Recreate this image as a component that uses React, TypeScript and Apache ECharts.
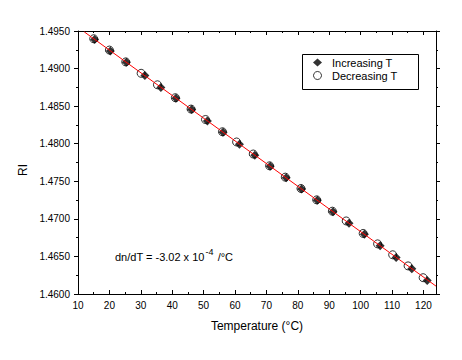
import React, { useEffect, useRef } from "react";
import * as echarts from "echarts";

const FONT = "'Liberation Sans', Arial, sans-serif";

const incT = [15.3, 20.3, 25.4, 31.3, 36.4, 41.2, 46.2, 51.2, 56.2, 61.4, 66.3, 71.2, 76.3, 81.2, 86.2, 91.2, 96.3, 101.2, 106.2, 111.3, 116.3, 121.2];
const incRI = [1.49388, 1.49235, 1.49085, 1.48908, 1.48749, 1.48606, 1.48455, 1.48302, 1.48153, 1.47994, 1.47848, 1.47700, 1.47546, 1.47398, 1.47247, 1.47096, 1.46941, 1.46794, 1.46641, 1.46487, 1.46336, 1.46178];
const decT = [15.0, 20.0, 25.2, 30.1, 35.3, 41.0, 46.0, 50.6, 56.0, 60.5, 65.8, 71.0, 76.0, 81.0, 86.0, 91.0, 95.4, 100.8, 105.4, 110.2, 115.1, 119.9];
const decRI = [1.49397, 1.49246, 1.49089, 1.48937, 1.48784, 1.48612, 1.48461, 1.48322, 1.48159, 1.48023, 1.47863, 1.47706, 1.47555, 1.47404, 1.47253, 1.47102, 1.46972, 1.46806, 1.46667, 1.46522, 1.46374, 1.46217];
const fitLine = [[12.0, 1.49488], [124.0, 1.46105]];

const xMin = 10, xMax = 124, xInterval = 10;
const yMin = 1.46, yMax = 1.495, yInterval = 0.005;

export default function App() {
  const ref = useRef<HTMLDivElement>(null);
  useEffect(() => {
    if (!ref.current) return;
    const chart = echarts.init(ref.current, null, { renderer: "svg" });
    const axisLine = { show: true, onZero: false, lineStyle: { color: "#000", width: 1 } };
    const baseX = {
      type: "value", min: xMin, max: xMax, interval: xInterval,
      axisLine, splitLine: { show: false },
      minorTick: { show: true, splitNumber: 2, length: 2, lineStyle: { color: "#000" } },
    };
    const baseY = {
      type: "value", min: yMin, max: yMax, interval: yInterval,
      axisLine, splitLine: { show: false },
      minorTick: { show: true, splitNumber: 2, length: 2, lineStyle: { color: "#000" } },
    };
    chart.setOption({
      animation: false,
      backgroundColor: "#fff",
      textStyle: { fontFamily: FONT },
      grid: { left: 78, right: 26, top: 31, bottom: 66 },
      xAxis: [
        {
          ...baseX, position: "bottom",
          name: "Temperature (°C)", nameLocation: "middle", nameGap: 26,
          nameTextStyle: { color: "#000", fontSize: 12, fontFamily: FONT },
          axisTick: { show: true, inside: true, length: 4, lineStyle: { color: "#000" } },
          axisLabel: { color: "#000", fontSize: 10, margin: 6, fontFamily: FONT, showMaxLabel: false,
            formatter: (v: number) => (v % 10 === 0 ? String(v) : "") },
        },
        {
          ...baseX, position: "top",
          axisTick: { show: true, inside: true, length: 4, lineStyle: { color: "#000" } },
          axisLabel: { show: false },
        },
      ],
      yAxis: [
        {
          ...baseY, position: "left",
          axisTick: { show: true, inside: false, length: 4, lineStyle: { color: "#000" } },
          axisLabel: { color: "#000", fontSize: 10, margin: 8, fontFamily: FONT,
            formatter: (v: number) => v.toFixed(4) },
        },
        {
          ...baseY, position: "right",
          axisTick: { show: true, inside: false, length: 4, lineStyle: { color: "#000" } },
          axisLabel: { show: false },
        },
      ],
      legend: {
        orient: "vertical", left: 313, top: 57,
        padding: 0, itemGap: 2, itemWidth: 9, itemHeight: 8,
        textStyle: { color: "#000", fontSize: 11, fontFamily: FONT, padding: [0, 0, 0, 5] },
        data: [
          { name: "Increasing T" },
          { name: "Decreasing T", itemStyle: { color: "#fff", borderColor: "#000", borderWidth: 1 } },
        ],
      },
      graphic: [
        {
          type: "rect", shape: { x: 302.5, y: 54.5, width: 116, height: 35 },
          style: { fill: "none", stroke: "#000", lineWidth: 1 },
          z: 10,
        },
        {
          type: "text", x: 23, y: 170, rotation: Math.PI / 2,
          style: { text: "RI", fill: "#000", font: `12px ${FONT}`, align: "center", verticalAlign: "middle" },
        },
        {
          type: "text", left: 115, top: 246,
          style: {
            text: "{a|dn/dT = -3.02 x 10}{b|-4}{a| /°C}",
            rich: {
              a: { fontSize: 11, fontFamily: FONT, fill: "#000", lineHeight: 16, verticalAlign: "bottom" },
              b: { fontSize: 9, fontFamily: FONT, fill: "#000", lineHeight: 15, verticalAlign: "top", padding: [1, 1, 0, 1] },
            },
          },
        },
      ],
      series: [
        {
          name: "Increasing T", type: "scatter", xAxisIndex: 0, yAxisIndex: 0,
          symbol: "diamond", symbolSize: 9,
          itemStyle: { color: "#000" },
          data: incT.map((t, i) => [t, incRI[i]]),
          z: 2,
        },
        {
          name: "Decreasing T", type: "scatter", xAxisIndex: 0, yAxisIndex: 0,
          symbol: "circle", symbolSize: 8,
          itemStyle: { color: "rgba(255,255,255,0)", borderColor: "#000", borderWidth: 1 },
          data: decT.map((t, i) => [t, decRI[i]]),
          z: 3,
        },
        {
          name: "fit", type: "line", xAxisIndex: 0, yAxisIndex: 0,
          data: fitLine, symbol: "none",
          lineStyle: { color: "#ff0000", width: 1 },
          z: 4,
        },
      ],
    });
    return () => chart.dispose();
  }, []);
  return <div ref={ref} style={{ width: 462, height: 360, position: "absolute", left: 0, top: 0 }} />;
}
